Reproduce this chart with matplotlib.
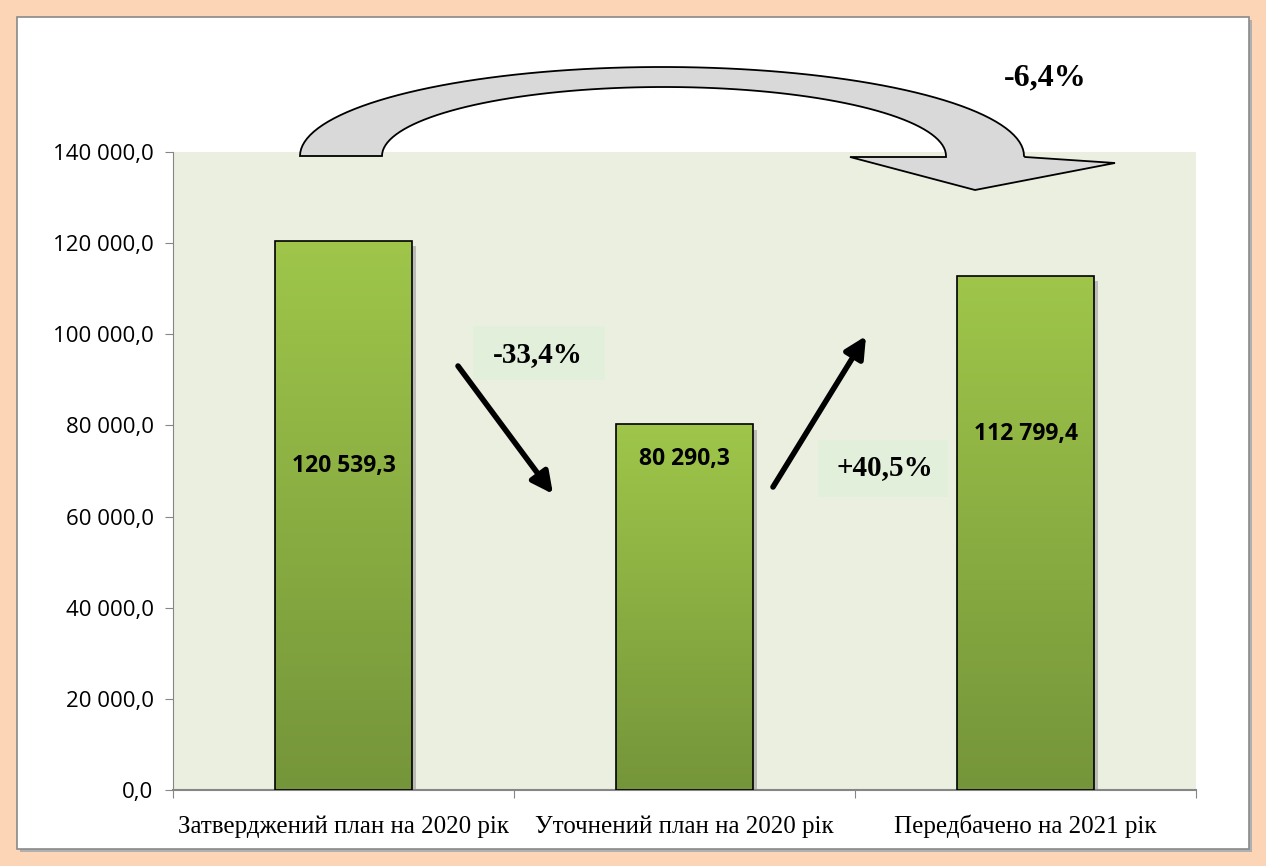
import numpy as np
import matplotlib
matplotlib.use('Agg')
import matplotlib.pyplot as plt
from matplotlib.patches import Rectangle, Polygon
from matplotlib.colors import LinearSegmentedColormap

# data
categories = ['Затверджений план на 2020 рік', 'Уточнений план на 2020 рік', 'Передбачено на 2021 рік']
values = [120539.3, 80290.3, 112799.4]
value_labels = ['120 539,3', '80 290,3', '112 799,4']
label_y = [71100, 72600, 78100]
yticks = [0, 20000, 40000, 60000, 80000, 100000, 120000, 140000]
ytick_labels = ['0,0', '20 000,0', '40 000,0', '60 000,0', '80 000,0', '100 000,0', '120 000,0', '140 000,0']

W, H = 1266, 866
fig = plt.figure(figsize=(W / 100, H / 100), dpi=100)
fig.patch.set_facecolor('#fbd5b5')

# background overlay in pixel coords (frame)
bg = fig.add_axes([0, 0, 1, 1], zorder=0)
bg.set_xlim(0, W); bg.set_ylim(H, 0); bg.axis('off')
bg.add_patch(Rectangle((20, 20), 1232, 832, facecolor='#b0b0b0', edgecolor='none'))
bg.add_patch(Rectangle((17, 17), 1232, 832, facecolor='white', edgecolor='#8a8a8a', lw=1.2))

# main chart
ax = fig.add_axes([173 / W, 1 - 790 / H, (1196 - 173) / W, (790 - 152) / H], zorder=1)
ax.set_facecolor('#ebefdf')
x = np.arange(len(categories))
bw = 0.4
cmap = LinearSegmentedColormap.from_list('g', ['#75953a', '#9fc64a'])
grad = np.linspace(0, 1, 256).reshape(-1, 1)
for i, v in enumerate(values):
    # shadow
    ax.add_patch(Rectangle((x[i] - bw / 2 + 0.012, 0), bw, v - 1200, facecolor='#9a9a9a',
                           edgecolor='none', alpha=0.6, zorder=1))
    bar = ax.bar(x[i], v, width=bw, facecolor='none', edgecolor='black', lw=1.2, zorder=3)[0]
    im = ax.imshow(grad, cmap=cmap, origin='lower', aspect='auto',
                   extent=[x[i] - bw / 2, x[i] + bw / 2, 0, v], zorder=2)
    im.set_clip_path(bar)
    ax.text(x[i], label_y[i], value_labels[i], ha='center', va='center',
            fontsize=16.5, fontweight='bold', family='Open Sans', zorder=4)

ax.set_xlim(-0.5, 2.5)
ax.set_ylim(0, 140000)
ax.set_yticks(yticks)
ax.set_yticklabels(ytick_labels, family='Open Sans', fontsize=16)
ax.set_xticks([-0.5, 0.5, 1.5, 2.5])
ax.set_xticklabels([])
ax.set_xticks(x, minor=True)
ax.set_xticklabels(categories, minor=True, family='Liberation Serif', fontsize=18)
ax.tick_params(axis='x', which='minor', length=0, pad=18)
ax.tick_params(axis='x', which='major', length=6, color='#868686')
ax.tick_params(axis='y', length=6, color='#868686', pad=8)
for s in ['top', 'right']:
    ax.spines[s].set_visible(False)
ax.spines['left'].set_color('#868686')
ax.spines['bottom'].set_color('#868686')
ax.spines['bottom'].set_linewidth(1.5)

# foreground overlay: arrows and percentages
fg = fig.add_axes([0, 0, 1, 1], zorder=2)
fg.set_xlim(0, W); fg.set_ylim(H, 0); fg.axis('off')
fg.patch.set_alpha(0)

t = np.linspace(np.pi, 0, 80)
outer = np.column_stack([662 + 362 * np.cos(t), 156 - 89 * np.sin(t)])
t2 = np.linspace(0, np.pi, 80)
inner = np.column_stack([664 + 282 * np.cos(t2), 156 - 69 * np.sin(t2)])
head = np.array([[1025, 157], [1115, 163], [975, 190], [850, 157], [946, 157]])
pts = np.vstack([outer, head, inner])
fg.add_patch(Polygon(pts, closed=True, facecolor='#d9d9d9', edgecolor='black', lw=1.3))

fg.add_patch(Rectangle((473, 326), 132, 54, facecolor='#e2efda', edgecolor='none'))
fg.add_patch(Rectangle((818, 440), 130, 57, facecolor='#e2efda', edgecolor='none'))
fg.text(538, 355, '-33,4%', ha='center', va='center', fontsize=21, fontweight='bold',
        family='Liberation Serif')
fg.text(885, 468, '+40,5%', ha='center', va='center', fontsize=21, fontweight='bold',
        family='Liberation Serif')
fg.text(1045, 78, '-6,4%', ha='center', va='center', fontsize=23, fontweight='bold',
        family='Liberation Serif')

fg.annotate('', xy=(553, 494), xytext=(458, 366),
            arrowprops=dict(arrowstyle='-|>', lw=4, color='black', mutation_scale=32,
                            shrinkA=0, shrinkB=0))
fg.annotate('', xy=(866, 336), xytext=(773, 487),
            arrowprops=dict(arrowstyle='-|>', lw=4, color='black', mutation_scale=32,
                            shrinkA=0, shrinkB=0))

fig.savefig('out.png', dpi=100, facecolor=fig.get_facecolor())
